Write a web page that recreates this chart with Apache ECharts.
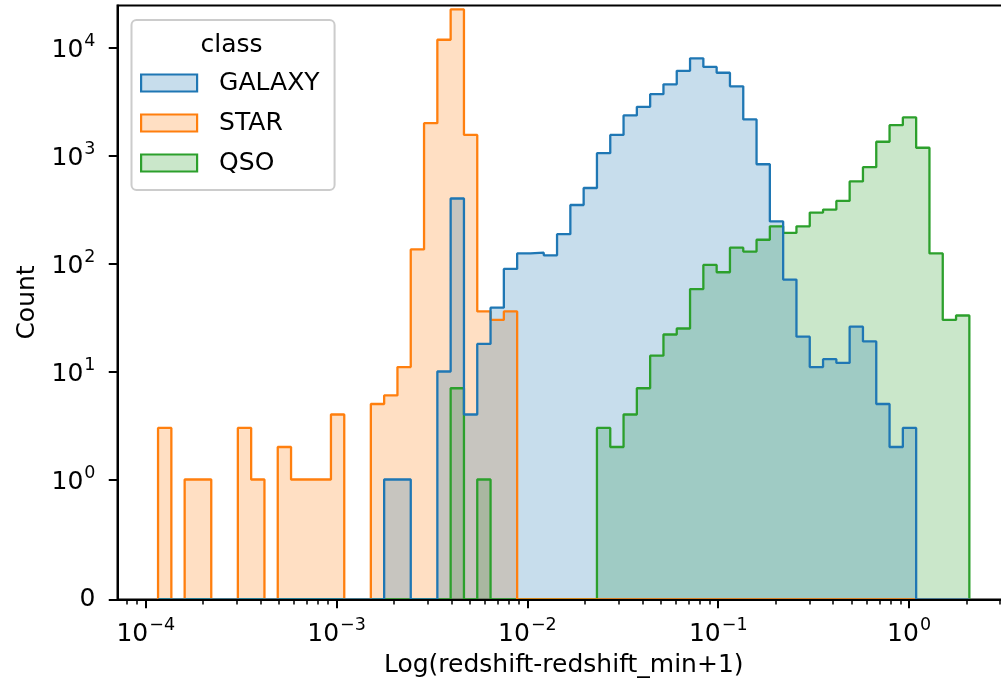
<!DOCTYPE html>
<html><head><meta charset="utf-8">
<script src="https://cdn.jsdelivr.net/npm/echarts@6/dist/echarts.min.js"></script>
<style>html,body{margin:0;padding:0;background:#fff}#c{width:1001px;height:694px}</style>
</head><body><div id="c"></div>
<script>
// ---- data ----
const classes = ['GALAXY', 'STAR', 'QSO'];
const colors = ['#1f77b4', '#ff7f0e', '#2ca02c'];
// histogram bins (log10 of x): first edge, last edge, number of bins
const binLogStart = -3.9355;
const binLogEnd = 0.316;
const binCount = 61;
const galaxyCounts = [0,0,0,0,0,0,0,0,0,0,0,0,0,0,0,0,0,
  1,1,0,0,10,400,4,18,39,89,124,126,119,187,348,500,1050,1550,2350,2820,3700,4560,6080,
  7940,6610,5840,4370,2160,830,245,71,21,11,13,12,26,19,5,2,3,
  0,0,0,0];
const starCounts = [3,0,1,1,0,0,3,1,0,2,1,1,1,4,0,0,5,6,11,135,1990,11800,22500,1550,36,30,36,
  0,0,0,0,0,0,0,0,0,0,0,0,0,0,0,0,0,0,0,0,0,0,0,0,0,0,0,0,0,0,0,0,0,0];
const qsoCounts = [0,0,0,0,0,0,0,0,0,0,0,0,0,0,0,0,0,0,0,0,0,0,
  7,0,1,0,0,0,0,0,0,0,0,
  3,2,4,7,14,22,25,58,97,83,140,129,166,221,192,221,296,316,380,575,780,1340,1910,2250,1180,124,30,33];
const xTickExps = [-4, -3, -2, -1, 0];
const xMinorMultipliers = [2, 3, 4, 5, 6, 7, 8, 9];
const yTickCounts = [0, 1, 10, 100, 1000, 10000];
const xTitle = 'Log(redshift-redshift_min+1)';
const yTitle = 'Count';
const legendTitle = 'class';

// ---- scales ----
const xMin = -4.148, xMax = 0.529;          // log10 axis limits
const LIN = 1 / (1 - 1 / 10);               // symlog linthresh=1, linscale=1
const yMaxT = 5.5;                          // top of symlog axis (transformed)
const FONT = 'DejaVu Sans';

function symlog(c) { return c <= 1 ? c * LIN : LIN + Math.log10(c); }
function edge(i) { return binLogStart + i * (binLogEnd - binLogStart) / binCount; }
function stepData(counts) {
  const d = [[edge(0), 0]];
  counts.forEach((c, i) => d.push([edge(i), symlog(c)]));
  d.push([edge(counts.length), symlog(counts[counts.length - 1])]);
  d.push([edge(counts.length), 0]);
  return d;
}
const countsByClass = { GALAXY: galaxyCounts, STAR: starCounts, QSO: qsoCounts };

const minorTicks = [];
for (let e = -5; e <= 0; e++) {
  xMinorMultipliers.forEach(m => {
    const v = e + Math.log10(m);
    if (v > xMin && v < xMax) minorTicks.push(v);
  });
}
const yTickVals = yTickCounts.map(symlog);

const rich = {
  b: { fontSize: 25, fontFamily: FONT, color: '#000', lineHeight: 30, verticalAlign: 'bottom' },
  s: { fontSize: 17.5, fontFamily: FONT, color: '#000', lineHeight: 16, verticalAlign: 'top', padding: [0, 0, 0, 1] },
  z: { fontSize: 25, fontFamily: FONT, color: '#000', lineHeight: 30 }
};
function sup(e) { return '{b|10}{s|' + (e < 0 ? '\u2212' + (-e) : e) + '}'; }

function rgba(hex, a) {
  const n = parseInt(hex.slice(1), 16);
  return 'rgba(' + (n >> 16) + ',' + ((n >> 8) & 255) + ',' + (n & 255) + ',' + a + ')';
}

// draw order: last hue first (seaborn draws in reverse), first hue on top
const drawOrder = classes.slice().reverse();
const series = drawOrder.map(name => {
  const col = colors[classes.indexOf(name)];
  return {
    name: name, type: 'line', step: 'end', data: stepData(countsByClass[name]),
    showSymbol: false, symbol: 'none', clip: true,
    lineStyle: { color: col, width: 2.3 },
    itemStyle: { color: col },
    areaStyle: { color: col, opacity: 0.25, origin: 'start' },
    emphasis: { disabled: true }, silent: true
  };
});

const chart = echarts.init(document.getElementById('c'), null, { renderer: 'canvas' });
chart.setOption({
  animation: false,
  backgroundColor: '#fff',
  grid: { left: 117.5, top: 5.5, width: 892.5, height: 594, show: true,
          borderColor: '#000', borderWidth: 2, backgroundColor: 'transparent',
          containLabel: false, outerBoundsMode: 'none' },
  xAxis: [{
    type: 'value', min: xMin, max: xMax, position: 'bottom', z: 10,
    axisLine: { onZero: false, lineStyle: { color: '#000', width: 2 } },
    axisTick: { customValues: xTickExps, length: 8.75, lineStyle: { color: '#000', width: 2 } },
    axisLabel: { customValues: xTickExps, margin: 17, formatter: v => sup(Math.round(v)), rich: rich },
    splitLine: { show: false },
    name: xTitle, nameLocation: 'middle', nameGap: 53,
    nameTextStyle: { fontSize: 25, fontFamily: FONT, color: '#000' }
  }, {
    type: 'value', min: xMin, max: xMax, position: 'top', offset: -594, z: 10,
    axisLine: { show: false },
    axisTick: { customValues: minorTicks, inside: true, length: 5, lineStyle: { color: '#000', width: 1.5 } },
    axisLabel: { show: false }, splitLine: { show: false }
  }],
  yAxis: {
    type: 'value', min: 0, max: yMaxT, position: 'left', z: 10,
    axisLine: { onZero: false, lineStyle: { color: '#000', width: 2 } },
    axisTick: { customValues: yTickVals, length: 8.75, lineStyle: { color: '#000', width: 2 } },
    axisLabel: { customValues: yTickVals, margin: 22,
      formatter: v => v < 0.5 ? '{z|0}' : sup(Math.round(v - LIN)), rich: rich },
    splitLine: { show: false },
    name: yTitle, nameLocation: 'middle', nameGap: 78, nameRotate: 90,
    nameTextStyle: { fontSize: 25, fontFamily: FONT, color: '#000' }
  },
  legend: {
    data: classes.map((n, i) => ({ name: n, itemStyle: { color: rgba(colors[i], 0.25), borderColor: colors[i], borderWidth: 2.2 } })),
    orient: 'vertical', left: 131.5, top: 20, padding: [50, 15, 14, 8.5],
    itemWidth: 56, itemHeight: 17, itemGap: 14, icon: 'rect',
    backgroundColor: 'rgba(255,255,255,0.8)', borderColor: '#cccccc', borderWidth: 2, borderRadius: 5,
    textStyle: { fontSize: 25, fontFamily: FONT, color: '#000', lineHeight: 26, padding: [0, 0, 0, 17] },
    selectedMode: false, z: 20
  },
  graphic: [{
    type: 'text', x: 231.5, y: 45, z: 100,
    style: { text: legendTitle, font: '25px "DejaVu Sans"', fill: '#000', textAlign: 'center', textVerticalAlign: 'middle' }
  }],
  series: series
});
</script>
</body></html>
